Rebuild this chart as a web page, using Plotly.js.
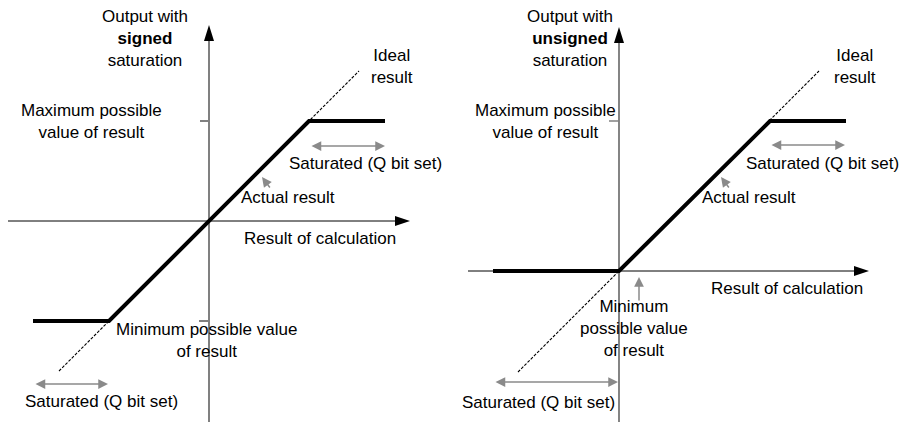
<!DOCTYPE html>
<html>
<head>
<meta charset="utf-8">
<script src="https://cdn.plot.ly/plotly-3.0.1.min.js"></script>
<style>
  html, body { margin: 0; padding: 0; background: #fff; }
  #chart { width: 900px; height: 422px; }
</style>
</head>
<body>
<div id="chart"></div>
<script>
// units: origin of each panel at 0, 1 unit ~ 100px

// signed saturation (left)
var signedX = [-1.76, -1.0, 1.0, 1.76];
var signedY = [-1.0, -1.0, 1.0, 1.0];
var signedIdealX = [-1.5, 1.5];
var signedIdealY = [-1.5, 1.5];

// unsigned saturation (right)
var unsignedX = [-1.26, 0, 1.51, 2.27];
var unsignedY = [0, 0, 1.5, 1.5];
var unsignedIdealX = [-1.01, 2.0];
var unsignedIdealY = [-1.01, 2.0];

var FONT = {family: "Liberation Sans, Arial, sans-serif", size: 17, color: "#000"};
var GREY = "#8a8a8a";

var traces = [
  {x: signedIdealX, y: signedIdealY, xaxis: "x", yaxis: "y", mode: "lines",
   line: {color: "#000", width: 1.1, dash: "3px,1.5px"}, hoverinfo: "skip"},
  {x: signedX, y: signedY, xaxis: "x", yaxis: "y", mode: "lines",
   line: {color: "#000", width: 4}, hoverinfo: "skip"},
  {x: unsignedIdealX, y: unsignedIdealY, xaxis: "x2", yaxis: "y2", mode: "lines",
   line: {color: "#000", width: 1.1, dash: "3px,1.5px"}, hoverinfo: "skip"},
  {x: unsignedX, y: unsignedY, xaxis: "x2", yaxis: "y2", mode: "lines",
   line: {color: "#000", width: 4}, hoverinfo: "skip"}
];

function line(xr, yr, x0, y0, x1, y1, color, w) {
  return {type: "line", xref: xr, yref: yr, x0: x0, y0: y0, x1: x1, y1: y1,
    line: {color: color, width: w}, layer: "below"};
}
function head(xr, yr, x, y, path) {
  return {type: "path", xref: xr, yref: yr, xsizemode: "pixel", ysizemode: "pixel",
    xanchor: x, yanchor: y, path: path, fillcolor: "#000", line: {width: 0}};
}
var UP = "M0,0 L-5,-16 L5,-16 Z";
var RIGHT = "M0,0 L-15,5 L-15,-5 Z";

var shapes = [
  // left axes
  line("x", "y", -2.01, 0, 1.87, 0, "#000", 1),
  line("x", "y", 0, -2.05, 0, 1.82, "#808080", 2),
  head("x", "y", 0, 1.96, UP),
  head("x", "y", 2.01, 0, RIGHT),
  line("x", "y", -0.09, 1, 0, 1, "#808080", 2),
  line("x", "y", -0.10, -1, 0, -1, "#808080", 2),
  // right axes
  line("x2", "y2", -1.51, 0, 2.36, 0, "#000", 1),
  line("x2", "y2", 0, -1.55, 0, 2.30, "#333", 1.2),
  head("x2", "y2", 0, 2.44, UP),
  head("x2", "y2", 2.50, 0, RIGHT),
  line("x2", "y2", -0.10, 1.5, 0, 1.5, "#808080", 1.5)
];

function txt(xr, yr, x, y, t) {
  return {xref: xr, yref: yr, x: x, y: y, text: t, showarrow: false,
    xanchor: "center", yanchor: "middle", font: FONT};
}
function arrow(xr, yr, x, y, ax, ay, both) {
  return {xref: xr, yref: yr, axref: xr, ayref: yr, x: x, y: y, ax: ax, ay: ay,
    text: "", showarrow: true, arrowhead: 2, arrowsize: 1.3, arrowwidth: 1.5,
    arrowcolor: GREY, arrowside: both ? "end+start" : "end",
    startarrowhead: 2, startarrowsize: 1.3, standoff: 0, startstandoff: 0};
}

var annotations = [
  txt("x", "y", -0.64, 1.83, "Output with<br><b>signed</b><br>saturation"),
  txt("x", "y", 1.83, 1.55, "Ideal<br>result"),
  txt("x", "y", -1.18, 1.0, "Maximum possible<br>value of result"),
  txt("x", "y", 1.56, 0.58, "Saturated (Q bit set)"),
  txt("x", "y", 0.79, 0.24, "Actual result"),
  txt("x", "y", 1.11, -0.17, "Result of calculation"),
  txt("x", "y", -0.03, -1.19, "Minimum possible value<br>of result"),
  txt("x", "y", -1.08, -1.80, "Saturated (Q bit set)"),
  arrow("x", "y", 0.53, 0.44, 0.62, 0.32, false),
  arrow("x", "y", 1.76, 0.75, 1.01, 0.75, true),
  arrow("x", "y", -1.01, -1.63, -1.75, -1.63, true),

  txt("x2", "y2", -0.49, 2.33, "Output with<br><b>unsigned</b><br>saturation"),
  txt("x2", "y2", 2.36, 2.05, "Ideal<br>result"),
  txt("x2", "y2", -0.74, 1.50, "Maximum possible<br>value of result"),
  txt("x2", "y2", 2.03, 1.08, "Saturated (Q bit set)"),
  txt("x2", "y2", 1.30, 0.74, "Actual result"),
  txt("x2", "y2", 1.68, -0.17, "Result of calculation"),
  txt("x2", "y2", 0.15, -0.57, "Minimum<br>possible value<br>of result"),
  txt("x2", "y2", -0.81, -1.31, "Saturated (Q bit set)"),
  arrow("x2", "y2", 1.02, 0.94, 1.11, 0.82, false),
  arrow("x2", "y2", 0.20, -0.06, 0.20, -0.31, false),
  arrow("x2", "y2", 2.26, 1.26, 1.51, 1.26, true),
  arrow("x2", "y2", -0.01, -1.11, -1.25, -1.11, true)
];

var hidden = {visible: false, fixedrange: true};

var layout = {
  width: 900, height: 422,
  margin: {l: 0, r: 0, t: 0, b: 0},
  paper_bgcolor: "#fff", plot_bgcolor: "#fff",
  showlegend: false,
  xaxis: Object.assign({domain: [0, 0.5], range: [-2.09, 2.41], anchor: "y"}, hidden),
  yaxis: Object.assign({domain: [0, 1], range: [-2.01, 2.21], anchor: "x"}, hidden),
  xaxis2: Object.assign({domain: [0.5, 1], range: [-1.69, 2.81], anchor: "y2"}, hidden),
  yaxis2: Object.assign({domain: [0, 1], range: [-1.51, 2.71], anchor: "x2"}, hidden),
  shapes: shapes,
  annotations: annotations
};

Plotly.newPlot("chart", traces, layout, {displayModeBar: false, staticPlot: true});
</script>
</body>
</html>
